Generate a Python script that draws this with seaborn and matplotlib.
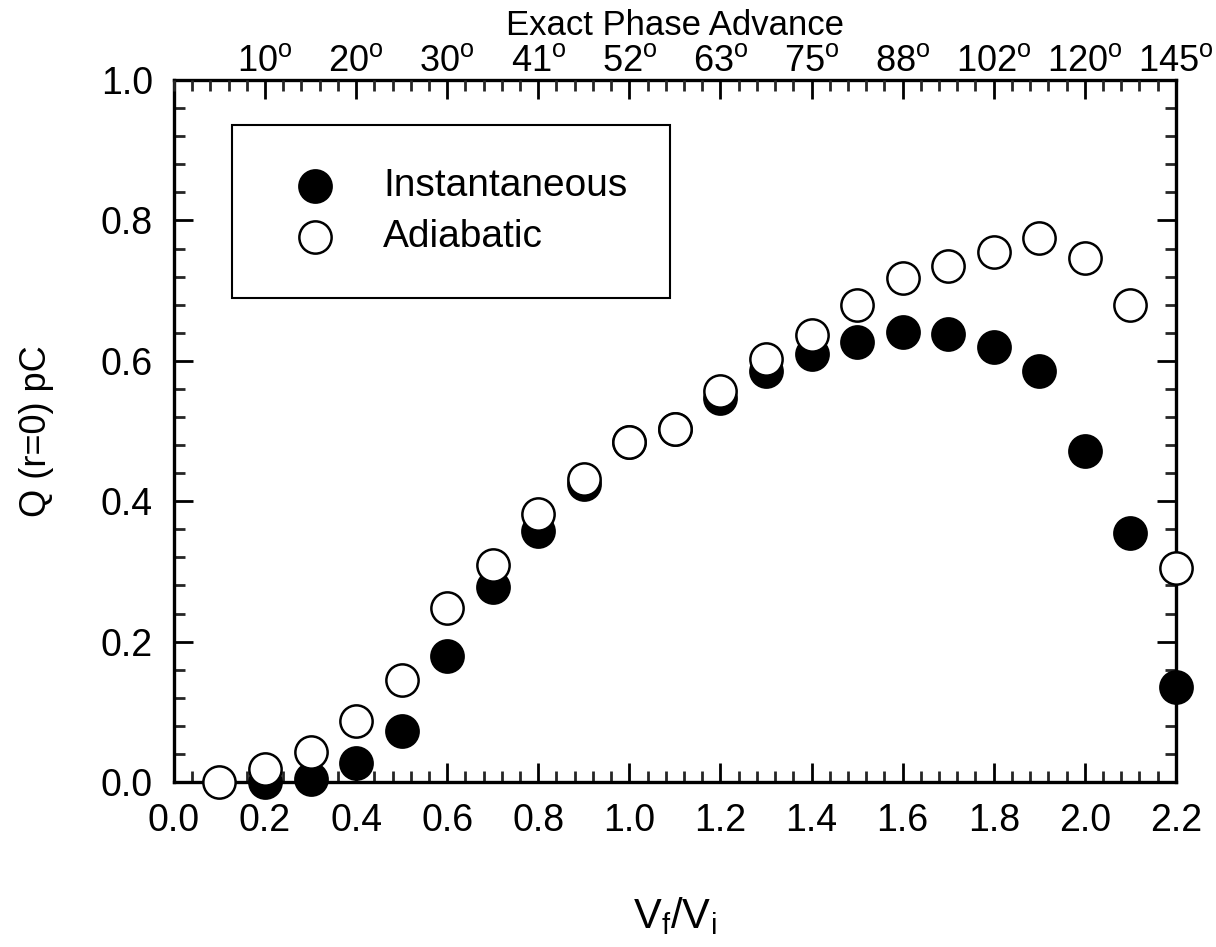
import numpy as np
import pandas as pd
import matplotlib
matplotlib.use("Agg")
import matplotlib.pyplot as plt
import seaborn as sns
from matplotlib.ticker import MultipleLocator, FormatStrFormatter

# ---- data ----
x_inst = [0.2, 0.3, 0.4, 0.5, 0.6, 0.7, 0.8, 0.9, 1.0, 1.1, 1.2, 1.3, 1.4, 1.5, 1.6, 1.7, 1.8, 1.9, 2.0, 2.1, 2.2]
y_inst = [0.000, 0.005, 0.027, 0.072, 0.180, 0.278, 0.358, 0.424, 0.485, 0.503, 0.547, 0.585, 0.610, 0.627, 0.641, 0.638, 0.619, 0.585, 0.472, 0.355, 0.135]
x_adia = [0.1, 0.2, 0.3, 0.4, 0.5, 0.6, 0.7, 0.8, 0.9, 1.0, 1.1, 1.2, 1.3, 1.4, 1.5, 1.6, 1.7, 1.8, 1.9, 2.0, 2.1, 2.2]
y_adia = [0.000, 0.018, 0.043, 0.087, 0.145, 0.248, 0.309, 0.382, 0.431, 0.485, 0.503, 0.557, 0.603, 0.637, 0.680, 0.718, 0.735, 0.755, 0.775, 0.746, 0.680, 0.305]
top_tick_pos = [0.2, 0.4, 0.6, 0.8, 1.0, 1.2, 1.4, 1.6, 1.8, 2.0, 2.2]
top_tick_labels = ["10", "20", "30", "41", "52", "63", "75", "88", "102", "120", "145"]

sns.set_theme(style="white")
plt.rcParams['font.family'] = ['Liberation Sans', 'DejaVu Sans']
plt.rcParams['mathtext.fontset'] = 'custom'
plt.rcParams['mathtext.rm'] = 'Liberation Sans'
plt.rcParams['mathtext.it'] = 'Liberation Sans'
plt.rcParams['mathtext.default'] = 'regular'

fig = plt.figure(figsize=(12.16, 9.47), dpi=100)
ax = fig.add_axes([0.143, 0.1742, 0.824, 0.7413])

df_i = pd.DataFrame({"x": x_inst, "y": y_inst})
df_a = pd.DataFrame({"x": x_adia, "y": y_adia})

msize = 540
sns.scatterplot(data=df_i, x="x", y="y", ax=ax, s=msize, color="black",
                edgecolor="black", linewidth=1.8, label="Instantaneous",
                clip_on=False, zorder=3)
sns.scatterplot(data=df_a, x="x", y="y", ax=ax, s=msize, color="white",
                edgecolor="black", linewidth=1.8, label="Adiabatic",
                clip_on=False, zorder=4)

ax.set_xlim(0, 2.2)
ax.set_ylim(0, 1.0)
ax.xaxis.set_major_locator(MultipleLocator(0.2))
ax.xaxis.set_minor_locator(MultipleLocator(0.04))
ax.yaxis.set_major_locator(MultipleLocator(0.2))
ax.yaxis.set_minor_locator(MultipleLocator(0.04))
ax.xaxis.set_major_formatter(FormatStrFormatter("%.1f"))
ax.yaxis.set_major_formatter(FormatStrFormatter("%.1f"))

for sp in ax.spines.values():
    sp.set_linewidth(2.4)
    sp.set_color("black")
    sp.set_visible(True)

ax.tick_params(which="major", direction="in", length=14, width=2, top=False, right=True,
               labelsize=27, colors="black")
ax.tick_params(which="minor", direction="in", length=8, width=2, top=False, right=True)
ax.tick_params(axis="x", which="both", bottom=True, pad=15)
ax.tick_params(axis="y", which="both", left=True, pad=15)

ax.set_xlabel("V$_f$/V$_i$", fontsize=30, color="black")
ax.xaxis.set_label_coords(0.5, -0.161)
ax.set_ylabel("Q (r=0) pC", fontsize=26, color="black")
ax.yaxis.set_label_coords(-0.12, 0.5)

# top axis
ax2 = ax.twiny()
ax2.set_xlim(ax.get_xlim())
ax2.set_xticks(top_tick_pos)
ax2.set_xticklabels([f"{t}$^{{o}}$" for t in top_tick_labels])
ax2.xaxis.set_minor_locator(MultipleLocator(0.04))
ax2.tick_params(which="major", direction="in", length=14, width=2, labelsize=26, pad=1, colors="black")
ax2.tick_params(which="minor", direction="in", length=8, width=2)
ax2.set_xlabel("Exact Phase Advance", fontsize=25, color="black")
ax2.xaxis.set_label_coords(0.5, 1.064)
for sp in ax2.spines.values():
    sp.set_visible(False)

leg = ax.legend(loc="upper left", bbox_to_anchor=(0.058, 0.936), fontsize=28,
                frameon=True, fancybox=False, edgecolor="black", borderpad=1.1,
                handletextpad=0.72, labelspacing=0.4, borderaxespad=0,
                markerscale=1.0, handlelength=2.06)
leg.get_frame().set_linewidth(1.5)
leg.get_frame().set_facecolor("white")
leg.get_frame().set_alpha(1)
for t in leg.get_texts():
    t.set_color("black")

fig.savefig("out.png", dpi=100, facecolor="white")
